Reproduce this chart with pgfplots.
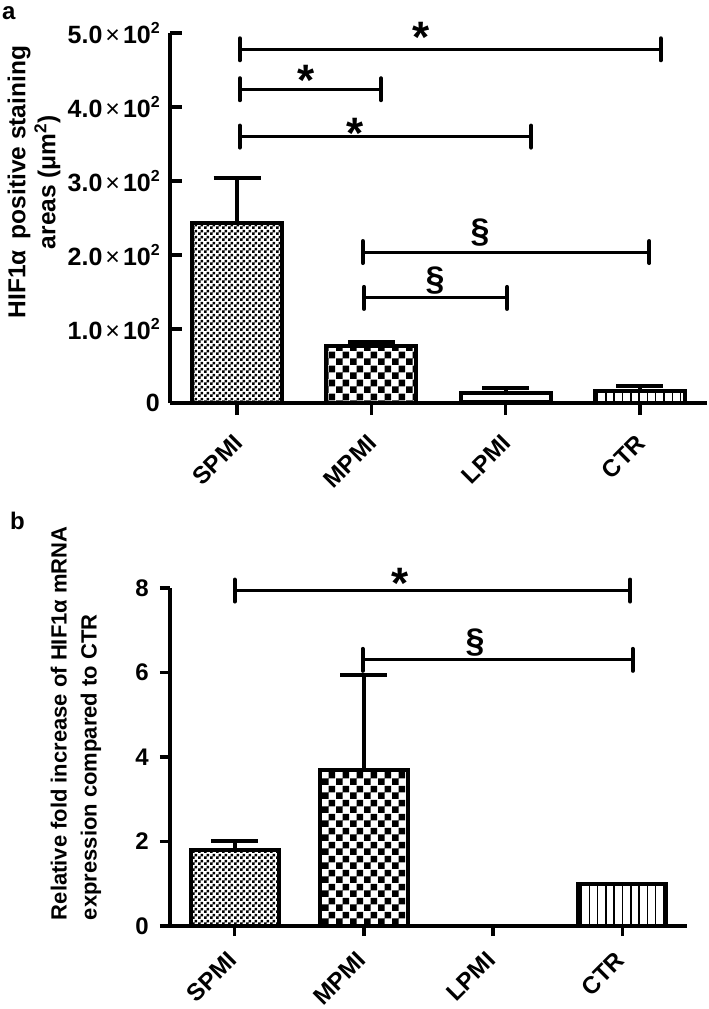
\documentclass[border=0pt]{standalone}
\usepackage{fontspec}
\setmainfont{Liberation Sans}
\usepackage{pgfplots}
\pgfplotsset{compat=1.18}
\usetikzlibrary{patterns}

\pgfdeclarepatternformonly{finecheck}{\pgfqpoint{0pt}{0pt}}{\pgfqpoint{6pt}{6pt}}{\pgfqpoint{6pt}{6pt}}{%
  \pgfpathrectangle{\pgfqpoint{0pt}{0pt}}{\pgfqpoint{3pt}{3pt}}%
  \pgfpathrectangle{\pgfqpoint{3pt}{3pt}}{\pgfqpoint{3pt}{3pt}}%
  \pgfusepath{fill}}
\pgfdeclarepatternformonly{coarsecheck}{\pgfqpoint{0pt}{0pt}}{\pgfqpoint{14pt}{14pt}}{\pgfqpoint{14pt}{14pt}}{%
  \pgfpathrectangle{\pgfqpoint{0pt}{0pt}}{\pgfqpoint{7pt}{7pt}}%
  \pgfpathrectangle{\pgfqpoint{7pt}{7pt}}{\pgfqpoint{7pt}{7pt}}%
  \pgfusepath{fill}}
\pgfdeclarepatternformonly{hlinesw}{\pgfqpoint{-1pt}{-1pt}}{\pgfqpoint{9pt}{1pt}}{\pgfqpoint{8pt}{8pt}}{%
  \pgfsetlinewidth{1.5pt}\pgfpathmoveto{\pgfqpoint{-0.5pt}{0pt}}\pgfpathlineto{\pgfqpoint{8.5pt}{0pt}}\pgfusepath{stroke}}
\pgfdeclarepatternformonly{vlinesw}{\pgfqpoint{-1pt}{-1pt}}{\pgfqpoint{1pt}{9pt}}{\pgfqpoint{8.3pt}{8pt}}{%
  \pgfsetlinewidth{1.5pt}\pgfpathmoveto{\pgfqpoint{0pt}{-0.5pt}}\pgfpathlineto{\pgfqpoint{0pt}{8.5pt}}\pgfusepath{stroke}}

\newcommand{\sci}[1]{#1\kern3pt{\mdseries ×}\kern3pt10\raisebox{0.42em}{\fontsize{16}{16}\selectfont 2}}

\pgfplotsset{
  mybar/.style={ybar, bar width=#1, draw=black, line width=4pt, pattern color=black},
  myerr/.style={error bars/.cd, y dir=plus, y explicit,
     error bar style={line width=4pt, black, solid},
     error mark=|, error mark options={mark size=23.5pt, line width=4pt, black}},
  bracket/.style={black, line width=3pt, line cap=round, mark=|, mark size=11pt,
     mark options={line width=4pt, line cap=round, solid}},
  common/.style={
    scale only axis, clip=false,
    xmin=-0.5, xmax=3.5, ymin=0,
    axis lines=left, axis line style={-, line width=3.5pt, black},
    xtick={0,1,2,3}, xticklabels={SPMI,MPMI,LPMI,CTR},
    every tick/.style={black, line width=3.5pt},
    tick label style={font=\bfseries\fontsize{24}{24}\selectfont},
  },
}

\begin{document}
\begin{tikzpicture}[x=1pt,y=1pt]
\useasboundingbox (0,0) rectangle (709,-1009);
\node[anchor=north west, inner sep=0pt, font=\bfseries\fontsize{24}{24}\selectfont] at (2,-6) {a};
\node[anchor=north west, inner sep=0pt, font=\bfseries\fontsize{24}{24}\selectfont] at (10,-512) {b};

% ---------------- panel a ----------------
\begin{axis}[common,
  at={(170pt,-403pt)}, anchor=south west, width=537pt, height=370pt,
  ymax=500,
  ytick={0,100,200,300,400,500},
  yticklabels={0,{\sci{1.0}},{\sci{2.0}},{\sci{3.0}},{\sci{4.0}},{\sci{5.0}}},
  xtick align=outside, ytick align=inside, major tick length=12pt,
  xticklabel style={inner sep=0pt, xshift=-5pt, yshift=-18pt, rotate=45, anchor=north east},
  yticklabel style={inner sep=0pt, anchor=east, xshift=-10pt, font=\bfseries\fontsize{25}{25}\selectfont},
  ylabel={HIF1α\, positive staining\\areas (μm\textsuperscript{2})},
  ylabel style={align=center, font=\bfseries\fontsize{24.5}{30}\selectfont,
     at={(axis description cs:-0.253,0.597)}, anchor=center},
]
\addplot[mybar=90pt, pattern=finecheck, myerr] coordinates {(0,243) +- (0,61)};
\addplot[mybar=90pt, pattern=coarsecheck, myerr] coordinates {(1,77) +- (0,6)};
\addplot[mybar=90pt, pattern=hlinesw, myerr] coordinates {(2,14) +- (0,6)};
\addplot[mybar=90pt, pattern=vlinesw, myerr] coordinates {(3,16) +- (0,7)};

\addplot[bracket] coordinates {(0.02,478) (3.155,478)};
\addplot[bracket] coordinates {(0.02,424) (1.072,424)};
\addplot[bracket] coordinates {(0.02,360) (2.19,360)};
\addplot[bracket] coordinates {(0.936,204) (3.07,204)};
\addplot[bracket] coordinates {(0.945,142) (2.011,142)};

\node[font=\bfseries\fontsize{44}{44}\selectfont, inner sep=0pt] at (axis cs:1.37,494) {*};
\node[font=\bfseries\fontsize{44}{44}\selectfont, inner sep=0pt] at (axis cs:0.515,436) {*};
\node[font=\bfseries\fontsize{44}{44}\selectfont, inner sep=0pt] at (axis cs:0.88,365) {*};
\node[font=\bfseries\fontsize{34}{34}\selectfont, inner sep=0pt] at (axis cs:1.81,231) {§};
\node[font=\bfseries\fontsize{34}{34}\selectfont, inner sep=0pt] at (axis cs:1.475,165) {§};
\end{axis}

% ---------------- panel b ----------------
\begin{axis}[common,
  at={(170pt,-926pt)}, anchor=south west, width=517pt, height=338pt,
  ymax=8,
  ytick={0,2,4,6,8}, yticklabels={0,2,4,6,8},
  tick align=outside, major tick length=10pt,
  xticklabel style={inner sep=0pt, xshift=-8pt, yshift=-14pt, rotate=45, anchor=north east},
  yticklabel style={inner sep=0pt, anchor=east, xshift=-11pt},
  ylabel={Relative fold increase of HIF1α mRNA\\expression compared to CTR},
  ylabel style={align=left, font=\bfseries\fontsize{22}{30}\selectfont,
     at={(axis description cs:-0.182,0.60)}, anchor=center},
]
\addplot[mybar=88pt, pattern=finecheck, myerr] coordinates {(0,1.80) +- (0,0.22)};
\addplot[mybar=88pt, pattern=coarsecheck, myerr] coordinates {(1,3.69) +- (0,2.25)};
\addplot[mybar=88pt, pattern=vlinesw] coordinates {(3,1.0)};

\addplot[bracket] coordinates {(0.0,7.94) (3.06,7.94)};
\addplot[bracket] coordinates {(0.99,6.30) (3.08,6.30)};

\node[font=\bfseries\fontsize{44}{44}\selectfont, inner sep=0pt] at (axis cs:1.28,8.10) {*};
\node[font=\bfseries\fontsize{34}{34}\selectfont, inner sep=0pt] at (axis cs:1.86,6.72) {§};
\end{axis}
\end{tikzpicture}
\end{document}
